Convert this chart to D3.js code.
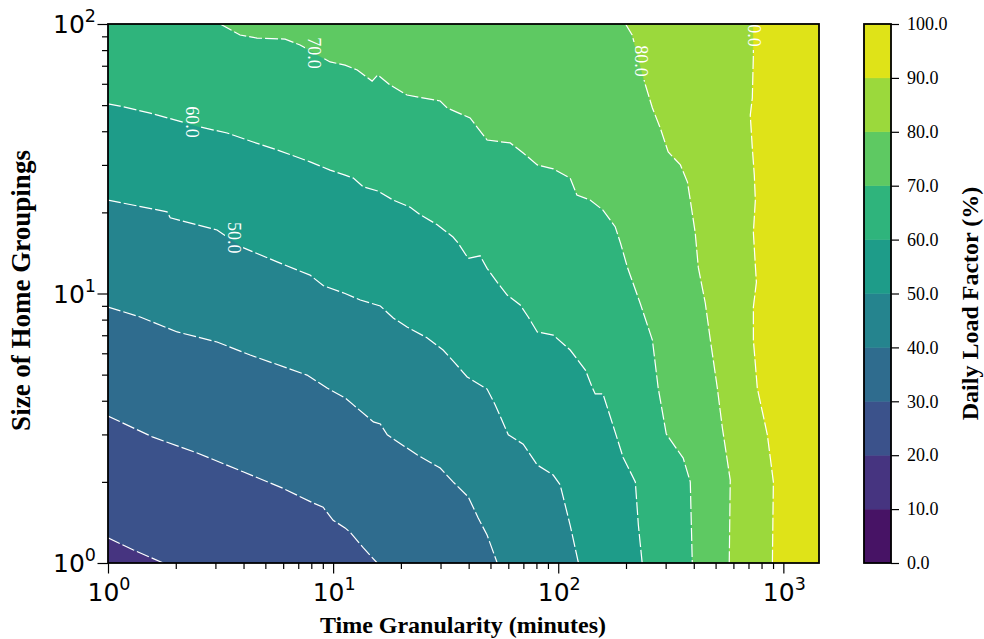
<!DOCTYPE html>
<html lang="en">
<head>
<meta charset="UTF-8">
<title>Daily Load Factor</title>
<script src="https://d3js.org/d3.v7.min.js"></script>
<style>
  body { margin: 0; background: #fff; }
  svg { display: block; }
</style>
</head>
<body>
<svg width="984" height="639"></svg>
<script>
// contour levels of the colour bar
const levels = [0, 10, 20, 30, 40, 50, 60, 70, 80, 90, 100];
const levelLabels = ["0.0", "10.0", "20.0", "30.0", "40.0", "50.0", "60.0", "70.0", "80.0", "90.0", "100.0"];

// contour lines, [minutes, homes]
const contour20 = [[1, 1.24], [1.29, 1.12], [1.76, 1]];
const contour30 = [[1, 3.51], [1.585, 2.93], [2.49, 2.56], [3.98, 2.18], [5.93, 1.90], [8.15, 1.67], [9.03, 1.61],
  [10, 1.44], [11.3, 1.35], [11.9, 1.30], [13.6, 1.14], [15.7, 1]];
const contour40 = [[1, 8.91], [1.39, 8.18], [2.03, 7.20], [3.05, 6.61], [4.28, 5.91], [6.25, 5.29], [7.66, 4.98],
  [9.40, 4.46], [11.3, 4.10], [12.3, 3.86], [15.1, 3.34], [16.2, 3.28], [17.4, 2.99], [23.6, 2.52], [29.9, 2.25],
  [34.1, 2.00], [39.8, 1.76], [44.1, 1.47], [48.3, 1.27], [53.6, 1]];
const contour50 = [[1, 22.2], [1.83, 20.1], [1.89, 19.1], [3.05, 17.2], [3.98, 14.8], [5.64, 13.1], [7.90, 11.7],
  [9.03, 10.7], [11.3, 10.0], [13.2, 9.46], [16.2, 8.99], [18.5, 8.11], [21.3, 7.51], [26.2, 6.84], [30.8, 6.17],
  [34.8, 5.52], [39.4, 4.90], [48.3, 4.42], [52.5, 3.86], [60.0, 2.99], [69.9, 2.76], [80.7, 2.31], [95.0, 2.12],
  [102, 1.95], [113, 1.38], [123, 1]];
const contour60 = [[1, 50.5], [1.13, 49.6], [1.54, 46.7], [2.56, 41.5], [3.38, 39.4], [4.41, 36.5], [5.64, 34.1],
  [7.90, 30.8], [9.70, 28.7], [11.3, 27.5], [12.3, 26.8], [13.6, 24.9], [15.8, 24.0], [18.5, 22.2], [22.0, 20.9],
  [24.4, 19.6], [29.0, 18.0], [34.1, 16.2], [35.9, 15.4], [39.8, 13.5], [45.0, 13.8], [48.3, 12.4], [53.6, 11.0],
  [59.3, 9.87], [67.8, 9.07], [73.6, 8.18], [80.7, 7.20], [95.0, 7.01], [113, 6.17], [132, 5.20], [142, 4.46],
  [146, 4.24], [158, 4.24], [179, 3.06], [194, 2.47], [220, 2.00], [227, 1.38], [236, 1]];
const contour70 = [[3.15, 100], [3.86, 91.0], [4.59, 88.7], [6.12, 87.9], [7.13, 83.6], [9.70, 72.3], [11.3, 70.4],
  [12.8, 67.5], [14.9, 61.4], [15.8, 64.7], [17.9, 59.4], [21.3, 54.5], [29.9, 51.8], [32.1, 48.8], [40.6, 44.8],
  [48.3, 37.1], [61.2, 36.2], [69.9, 33.2], [80.7, 30.0], [95.0, 29.0], [113, 26.8], [121, 23.2], [139, 22.2],
  [158, 20.4], [179, 17.7], [189, 15.4], [203, 12.5], [231, 9.22], [262, 6.72], [278, 4.46], [302, 3.01],
  [359, 2.45], [386, 2.00], [394, 1]];
const contour80 = [[199, 100], [213, 91.0], [244, 59.4], [262, 48.8], [284, 41.1], [308, 33.5], [349, 30.0],
  [375, 25.9], [386, 22.2], [406, 16.8], [419, 12.5], [450, 9.22], [474, 6.72], [509, 4.46], [536, 3.17],
  [581, 2.03], [575, 1]];
const contour90 = [[736, 100], [736, 76.7], [728, 53.1], [713, 45.9], [728, 34.7], [743, 27.5], [751, 22.2],
  [736, 16.8], [759, 11.0], [736, 8.91], [736, 6.72], [766, 4.46], [849, 2.99], [903, 2.00], [894, 1]];

// inline contour labels: level, [minutes, homes]
const labelLevels = [50, 60, 70, 80, 90];
const labelPositions = [[3.63, 16.1], [2.36, 43.3], [8.23, 78.1], [234, 72.9], [743, 94.2]];

const xMajor = [1, 10, 100, 1000];
const yMajor = [1, 10, 100];
const xExp = ["0", "1", "2", "3"];
const yExp = ["0", "1", "2"];

const contours = [
  {level: 20, pts: contour20}, {level: 30, pts: contour30}, {level: 40, pts: contour40},
  {level: 50, pts: contour50}, {level: 60, pts: contour60}, {level: 70, pts: contour70},
  {level: 80, pts: contour80}, {level: 90, pts: contour90}
];

const svg = d3.select("svg");
const pLeft = 108, pRight = 819, pTop = 24, pBottom = 563;
const serif = "'Liberation Serif', 'Times New Roman', serif";
const sans = "'DejaVu Sans', sans-serif";

const x = d3.scaleLog().domain([1, 1440]).range([pLeft, pRight]);
const y = d3.scaleLog().domain([1, 100]).range([pBottom, pTop]);
const band = lv => d3.interpolateViridis((lv + 5) / 100);

const defs = svg.append("defs");
defs.append("clipPath").attr("id", "plotclip")
  .append("rect").attr("x", pLeft).attr("y", pTop).attr("width", pRight - pLeft).attr("height", pBottom - pTop);

// mask to break the lines where labels sit
const mask = defs.append("mask").attr("id", "labelmask").attr("maskUnits", "userSpaceOnUse")
  .attr("x", 0).attr("y", 0).attr("width", 984).attr("height", 639);
mask.append("rect").attr("x", 0).attr("y", 0).attr("width", 984).attr("height", 639).attr("fill", "#fff");
labelPositions.forEach(p => {
  mask.append("rect")
    .attr("x", x(p[0]) - 9).attr("y", y(p[1]) - 19)
    .attr("width", 18).attr("height", 38).attr("fill", "#000");
});

const plot = svg.append("g").attr("clip-path", "url(#plotclip)");

plot.append("rect")
  .attr("x", pLeft).attr("y", pTop).attr("width", pRight - pLeft).attr("height", pBottom - pTop)
  .attr("fill", band(10));

const line = d3.line().x(d => x(d[0])).y(d => y(d[1]));

contours.forEach(c => {
  const poly = c.pts.concat([[1440, 1], [1440, 100], [c.pts[0][0], 100]]);
  plot.append("path")
    .attr("d", line(poly) + "Z")
    .attr("fill", band(c.level))
    .attr("stroke", band(c.level))
    .attr("stroke-width", 0.5);
});

const lines = plot.append("g").attr("mask", "url(#labelmask)");
contours.forEach(c => {
  lines.append("path")
    .attr("d", line(c.pts))
    .attr("fill", "none")
    .attr("stroke", "#fff")
    .attr("stroke-width", 1.2)
    .attr("stroke-dasharray", "13,3");
});

labelLevels.forEach((lv, i) => {
  const p = labelPositions[i];
  plot.append("text")
    .attr("transform", "translate(" + x(p[0]) + "," + y(p[1]) + ") rotate(90)")
    .attr("text-anchor", "middle")
    .attr("dy", "0.35em")
    .style("font-family", serif)
    .style("font-size", "18px")
    .attr("fill", "#fff")
    .text(lv.toFixed(1));
});

// minor ticks
const xMinor = [];
[1, 10, 100, 1000].forEach(d => { for (let k = 2; k <= 9; k++) if (d * k <= 1440) xMinor.push(d * k); });
const yMinor = [];
[1, 10].forEach(d => { for (let k = 2; k <= 9; k++) yMinor.push(d * k); });

const axes = svg.append("g");
axes.append("g").attr("transform", "translate(0," + pBottom + ")")
  .call(d3.axisBottom(x).tickValues(xMinor).tickSize(6).tickFormat(""));
axes.append("g").attr("transform", "translate(0," + pBottom + ")")
  .call(d3.axisBottom(x).tickValues(xMajor).tickSize(10.5).tickFormat(""));
axes.append("g").attr("transform", "translate(" + pLeft + ",0)")
  .call(d3.axisLeft(y).tickValues(yMinor).tickSize(6).tickFormat(""));
axes.append("g").attr("transform", "translate(" + pLeft + ",0)")
  .call(d3.axisLeft(y).tickValues(yMajor).tickSize(10.5).tickFormat(""));
axes.selectAll(".domain").remove();
axes.selectAll(".tick line").attr("stroke", "#000").attr("stroke-width", 1.2);

// tick labels with superscripts
xMajor.forEach((v, i) => {
  const t = svg.append("text")
    .attr("x", x(v) + 1).attr("y", 601)
    .attr("text-anchor", "middle")
    .style("font-family", sans).style("font-size", "25px");
  t.append("tspan").text("10");
  t.append("tspan").attr("dy", -11).style("font-size", "17.5px").text(xExp[i]);
});
yMajor.forEach((v, i) => {
  const t = svg.append("text")
    .attr("x", 96).attr("y", y(v) + 9)
    .attr("text-anchor", "end")
    .style("font-family", sans).style("font-size", "25px");
  t.append("tspan").text("10");
  t.append("tspan").attr("dy", -11).style("font-size", "17.5px").text(yExp[i]);
});

// frame
svg.append("rect")
  .attr("x", pLeft).attr("y", pTop).attr("width", pRight - pLeft).attr("height", pBottom - pTop)
  .attr("fill", "none").attr("stroke", "#000").attr("stroke-width", 1.8);

svg.append("text")
  .attr("x", (pLeft + pRight) / 2 - 0.5).attr("y", 633)
  .attr("text-anchor", "middle")
  .style("font-family", serif).style("font-size", "24px").style("font-weight", "bold")
  .text("Time Granularity (minutes)");

svg.append("text")
  .attr("transform", "translate(30," + ((pTop + pBottom) / 2 - 3) + ") rotate(-90)")
  .attr("text-anchor", "middle")
  .style("font-family", serif).style("font-size", "27px").style("font-weight", "bold")
  .text("Size of Home Groupings");

// colour bar
const cbLeft = 864, cbRight = 891;
const c = d3.scaleLinear().domain([0, 100]).range([pBottom, pTop]);
const cb = svg.append("g");
cb.selectAll("rect.band")
  .data(levels.slice(0, -1))
  .enter().append("rect")
  .attr("class", "band")
  .attr("x", cbLeft)
  .attr("y", d => c(d + 10))
  .attr("width", cbRight - cbLeft)
  .attr("height", d => c(d) - c(d + 10))
  .attr("fill", d => band(d))
  .attr("stroke", d => band(d))
  .attr("stroke-width", 0.5);
cb.append("rect")
  .attr("x", cbLeft).attr("y", pTop).attr("width", cbRight - cbLeft).attr("height", pBottom - pTop)
  .attr("fill", "none").attr("stroke", "#000").attr("stroke-width", 1.8);
const cbAxis = cb.append("g").attr("transform", "translate(" + cbRight + ",0)")
  .call(d3.axisRight(c).tickValues(levels).tickSize(8).tickPadding(8).tickFormat((d, i) => levelLabels[i]));
cbAxis.select(".domain").remove();
cbAxis.selectAll(".tick line").attr("stroke", "#000").attr("stroke-width", 1.2);
cbAxis.selectAll(".tick text")
  .attr("fill", "#000")
  .style("font-family", serif).style("font-size", "18px");

svg.append("text")
  .attr("transform", "translate(978," + ((pTop + pBottom) / 2 + 10) + ") rotate(-90)")
  .attr("text-anchor", "middle")
  .style("font-family", serif).style("font-size", "24px").style("font-weight", "bold")
  .text("Daily Load Factor (%)");
</script>
</body>
</html>
